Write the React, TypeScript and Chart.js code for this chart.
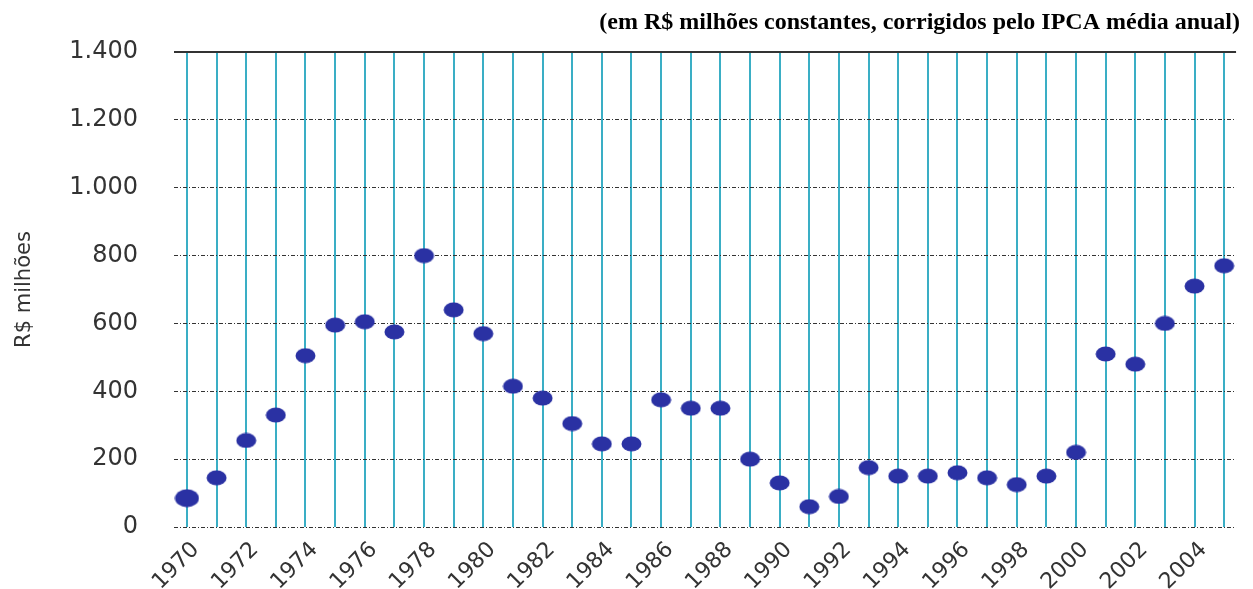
import React, { useEffect, useRef } from "react";
import { Chart, registerables } from "chart.js";

Chart.register(...registerables);

const years: number[] = [
  1970, 1971, 1972, 1973, 1974, 1975, 1976, 1977, 1978, 1979,
  1980, 1981, 1982, 1983, 1984, 1985, 1986, 1987, 1988, 1989,
  1990, 1991, 1992, 1993, 1994, 1995, 1996, 1997, 1998, 1999,
  2000, 2001, 2002, 2003, 2004, 2005,
];
const values: number[] = [
  85, 145, 255, 330, 505, 595, 605, 575, 800, 640,
  570, 415, 380, 305, 245, 245, 375, 350, 350, 200,
  130, 60, 90, 175, 150, 150, 160, 145, 125, 150,
  220, 510, 480, 600, 710, 770,
];
const yTicks: number[] = [0, 200, 400, 600, 800, 1000, 1200, 1400];
const titleText = "(em R$ milhões constantes, corrigidos pelo IPCA média anual)";
const yTitle = "R$ milhões";

function makeEllipse(w: number, h: number, color: string): HTMLCanvasElement {
  const c = document.createElement("canvas");
  c.width = w;
  c.height = h;
  const g = c.getContext("2d")!;
  g.fillStyle = color;
  g.beginPath();
  g.ellipse(w / 2, h / 2, w / 2 - 0.5, h / 2 - 0.5, 0, 0, Math.PI * 2);
  g.fill();
  return c;
}

export default function App() {
  const ref = useRef<HTMLCanvasElement | null>(null);
  useEffect(() => {
    document.body.style.margin = "0";
    const pointColor = "#2a31a3";
    const small = makeEllipse(21, 16, pointColor);
    const big = makeEllipse(25, 19, pointColor);
    const topLine = {
      id: "topLine",
      afterDraw(chart: any) {
        const { ctx, chartArea } = chart;
        ctx.save();
        ctx.strokeStyle = "#333";
        ctx.lineWidth = 2;
        ctx.beginPath();
        ctx.moveTo(chartArea.left, chartArea.top);
        ctx.lineTo(chartArea.right, chartArea.top);
        ctx.stroke();
        ctx.restore();
      },
    };
    const sans = "'DejaVu Sans', 'Liberation Sans', Arial, sans-serif";
    const chart = new Chart(ref.current!, {
      type: "scatter",
      data: {
        datasets: [
          {
            data: years.map((y, i) => ({ x: y, y: values[i] })),
            backgroundColor: pointColor,
            borderColor: pointColor,
            pointStyle: (c: any) => (c.dataIndex === 0 ? big : small),
          },
        ],
      },
      plugins: [topLine],
      options: {
        responsive: false,
        animation: false,
        layout: { padding: { right: 13, left: 0, top: 0, bottom: 0 } },
        plugins: {
          legend: { display: false },
          tooltip: { enabled: false },
          title: {
            display: true,
            text: titleText,
            align: "end",
            color: "#000",
            font: { family: "'Liberation Serif', 'Times New Roman', serif", size: 24, weight: "bold" },
            padding: { top: 8, bottom: 15.2 },
          },
        },
        scales: {
          x: {
            type: "linear",
            min: 1969.563,
            max: 2005.4,
            border: { display: false },
            grid: { color: "#3aaec5", lineWidth: 2, drawTicks: false },
            ticks: {
              stepSize: 1,
              includeBounds: false,
              autoSkip: false,
              maxRotation: 45,
              minRotation: 45,
              padding: 10,
              labelOffset: 9,
              color: "#333",
              font: { family: sans, size: 22 },
              callback: (v: any) => (Number(v) % 2 === 0 ? String(v) : ""),
            },
            afterFit: (s: any) => {
              s.height = 62;
            },
          },
          y: {
            min: 0,
            max: 1400,
            border: { display: false, dash: [4, 2, 1, 2] },
            grid: { color: "#333", lineWidth: 1, drawTicks: false },
            afterBuildTicks: (s: any) => {
              s.ticks = yTicks.map((v) => ({ value: v }));
            },
            ticks: {
              padding: 36,
              color: "#333",
              font: { family: sans, size: 24 },
              callback: (v: any) => Number(v).toLocaleString("de-DE"),
            },
            title: {
              display: true,
              text: yTitle,
              color: "#333",
              font: { family: sans, size: 21 },
              padding: { top: 12, bottom: 0 },
            },
            afterFit: (s: any) => {
              s.width = 174;
            },
          },
        },
      },
    } as any);
    return () => chart.destroy();
  }, []);
  return (
    <div style={{ position: "fixed", left: 0, top: 0, width: 1253, height: 589 }}>
      <canvas ref={ref} width={1253} height={589} />
    </div>
  );
}
